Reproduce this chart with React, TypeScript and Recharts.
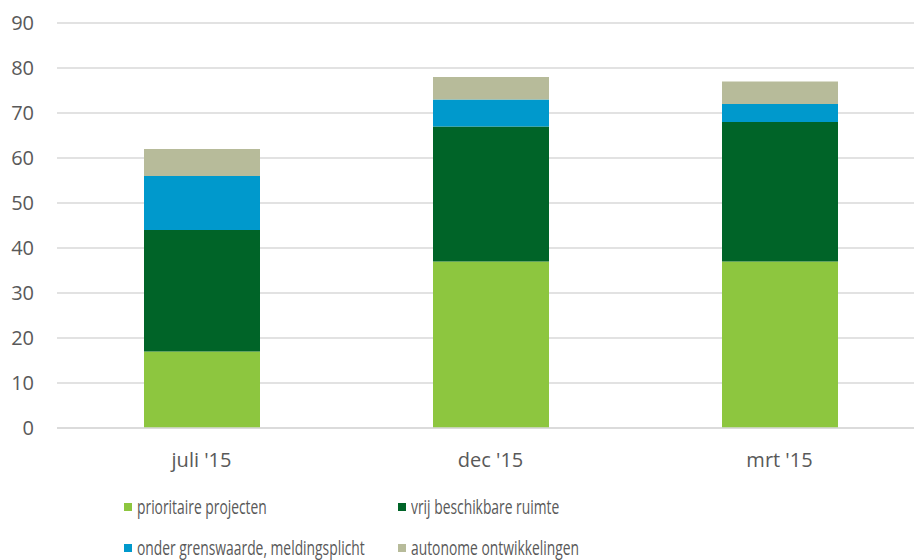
import { BarChart, Bar, XAxis, YAxis, CartesianGrid, Legend } from 'recharts';

const categories = ["juli '15", "dec '15", "mrt '15"];
const prioritaire = [17, 37, 37];
const vrijRuimte = [27, 30, 31];
const onderGrens = [12, 6, 4];
const autonoom = [6, 5, 5];
const yTicks = [0, 10, 20, 30, 40, 50, 60, 70, 80, 90];

const series = [
  { key: 'prioritaire', name: 'prioritaire projecten', color: '#8DC63F' },
  { key: 'vrij', name: 'vrij beschikbare ruimte', color: '#006428' },
  { key: 'onder', name: 'onder grenswaarde, meldingsplicht', color: '#0099CC' },
  { key: 'autonoom', name: 'autonome ontwikkelingen', color: '#B7BB9A' },
];

const data = categories.map((c, i) => ({
  name: c,
  prioritaire: prioritaire[i],
  vrij: vrijRuimte[i],
  onder: onderGrens[i],
  autonoom: autonoom[i],
}));

const FONT = "'Open Sans', sans-serif";
const TEXT = '#595959';

// legend in twee kolommen, zoals het origineel (tekst iets smaller, Calibri-achtig)
const LegendGrid = () => (
  <div style={{ position: 'relative', width: 914, height: 92, fontFamily: FONT, fontSize: 19.5, color: TEXT }}>
    {series.map((s, i) => {
      const col = i % 2;
      const row = Math.floor(i / 2);
      return (
        <div
          key={s.key}
          style={{
            position: 'absolute',
            left: col === 0 ? 124 : 398,
            top: row === 0 ? 26 : 67,
            display: 'flex',
            alignItems: 'center',
            whiteSpace: 'nowrap',
            lineHeight: '26px',
          }}
        >
          <span style={{ display: 'inline-block', width: 8, height: 8, background: s.color, marginRight: 5 }} />
          <span style={{ display: 'inline-block', transform: 'scaleX(0.71)', transformOrigin: 'left center' }}>{s.name}</span>
        </div>
      );
    })}
  </div>
);

export default function App() {
  return (
    <div style={{ position: 'absolute', left: 0, top: 0, width: 914, height: 560, overflow: 'hidden', background: '#fff' }}>
      <BarChart width={924} height={560} data={data} margin={{ top: 23, right: 0, left: 0, bottom: 0 }}>
        <CartesianGrid vertical={false} stroke="#D9D9D9" strokeWidth={1.5} />
        <XAxis
          dataKey="name"
          height={40}
          tickLine={false}
          axisLine={{ stroke: '#D9D9D9', strokeWidth: 1.5 }}
          tickMargin={19}
          tick={{ fill: TEXT, fontSize: 20, fontFamily: FONT }}
        />
        <YAxis
          width={57}
          domain={[0, 90]}
          ticks={yTicks}
          axisLine={false}
          tickLine={false}
          tickMargin={17}
          tick={{ fill: TEXT, fontSize: 20, fontFamily: FONT }}
        />
        <Legend verticalAlign="bottom" height={92} content={<LegendGrid />} />
        {series.map((s) => (
          <Bar key={s.key} dataKey={s.key} name={s.name} stackId="a" fill={s.color} barSize={116} isAnimationActive={false} />
        ))}
      </BarChart>
    </div>
  );
}
